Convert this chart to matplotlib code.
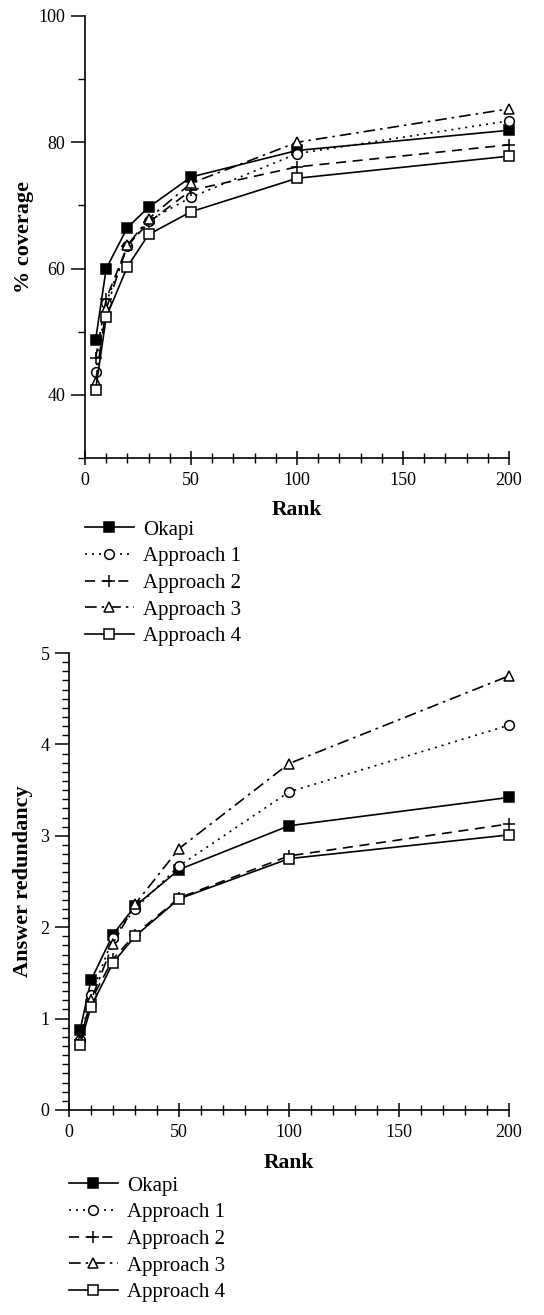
import matplotlib
matplotlib.use("Agg")
import matplotlib.pyplot as plt
from matplotlib.ticker import MultipleLocator

plt.rcParams['font.family'] = ['Liberation Serif', 'DejaVu Serif']

# data
rank = [5, 10, 20, 30, 50, 100, 200]
names = ["Okapi", "Approach 1", "Approach 2", "Approach 3", "Approach 4"]

coverage = {
    "Okapi":      [48.7, 60.0, 66.5, 69.7, 74.5, 78.7, 81.9],
    "Approach 1": [43.6, 54.6, 63.5, 67.6, 71.3, 78.2, 83.4],
    "Approach 2": [45.8, 55.2, 63.6, 67.3, 72.4, 76.1, 79.6],
    "Approach 3": [42.1, 53.6, 63.7, 67.9, 73.5, 80.0, 85.3],
    "Approach 4": [40.8, 52.3, 60.3, 65.4, 69.0, 74.3, 77.8],
}
redundancy = {
    "Okapi":      [0.87, 1.42, 1.92, 2.23, 2.63, 3.11, 3.42],
    "Approach 1": [0.77, 1.26, 1.88, 2.20, 2.67, 3.48, 4.21],
    "Approach 2": [0.77, 1.20, 1.65, 1.92, 2.32, 2.78, 3.13],
    "Approach 3": [0.75, 1.20, 1.82, 2.25, 2.86, 3.79, 4.75],
    "Approach 4": [0.71, 1.13, 1.61, 1.90, 2.31, 2.75, 3.01],
}

styles = {
    "Okapi":      dict(ls='-', marker='s', mfc='black'),
    "Approach 1": dict(ls=(0, (1.2, 3)), marker='o', mfc='white'),
    "Approach 2": dict(ls=(0, (6, 4)), marker='+', mfc='white'),
    "Approach 3": dict(ls=(0, (7, 3, 1.5, 3)), marker='^', mfc='white'),
    "Approach 4": dict(ls='-', marker='s', mfc='white'),
}

fig = plt.figure(figsize=(5.44, 13.15), dpi=100)
W, H = 544.0, 1315.0


def make_axes(l, r, t, b):
    return fig.add_axes([l / W, 1 - b / H, (r - l) / W, (b - t) / H])


def style_axes(ax, rank_pad):
    for s in ['top', 'right']:
        ax.spines[s].set_visible(False)
    for s in ['left', 'bottom']:
        ax.spines[s].set_linewidth(1.2)
    ax.tick_params(axis='y', which='major', direction='out', length=10, width=1.1,
                   labelsize=13, pad=4)
    ax.tick_params(axis='y', which='minor', direction='out', length=5, width=1.0)
    ax.tick_params(axis='x', which='major', direction='inout', length=10, width=1.1,
                   labelsize=13, pad=5)
    ax.tick_params(axis='x', which='minor', direction='inout', length=7, width=1.0)
    ax.set_xlim(0, 200)
    ax.xaxis.set_major_locator(MultipleLocator(50))
    ax.xaxis.set_minor_locator(MultipleLocator(10))
    ax.set_xlabel("Rank", fontsize=15.5, fontweight='bold', labelpad=rank_pad)


def draw(ax, data):
    lines = []
    for n in names:
        st = styles[n]
        ln, = ax.plot(rank, data[n], color='black', lw=1.2, ls=st['ls'],
                      marker=st['marker'], mfc=st['mfc'], mec='black',
                      ms=7 if st['marker'] != '+' else 9, mew=1.1, clip_on=False)
        lines.append(ln)
    return lines


def add_legend(lines, x, y):
    fig.legend(lines, names, loc='upper left', bbox_to_anchor=(x / W, 1 - y / H),
               frameon=False, fontsize=15, handlelength=2.35, handletextpad=0.45,
               labelspacing=0.34, borderpad=0, borderaxespad=0)


# top chart: coverage
ax1 = make_axes(85, 509, 16, 458)
style_axes(ax1, 8)
lines = draw(ax1, coverage)
ax1.set_ylim(30, 100)
ax1.yaxis.set_minor_locator(MultipleLocator(10))
ax1.set_yticks([40, 60, 80, 100])
ax1.set_ylabel("% coverage", fontsize=16, fontweight='bold', va='center')
ax1.yaxis.set_label_coords((24 - 85) / 424, 0.5)
add_legend(lines, 85, 520)

# bottom chart: answer redundancy
ax2 = make_axes(69, 509, 653, 1110)
style_axes(ax2, 9)
lines = draw(ax2, redundancy)
ax2.set_ylim(0, 5)
ax2.yaxis.set_major_locator(MultipleLocator(1))
ax2.yaxis.set_minor_locator(MultipleLocator(0.1))
ax2.set_ylabel("Answer redundancy", fontsize=16, fontweight='bold', va='center')
ax2.yaxis.set_label_coords((23 - 69) / 440, 0.5)
add_legend(lines, 69, 1176)

fig.savefig("out.png", dpi=100)
